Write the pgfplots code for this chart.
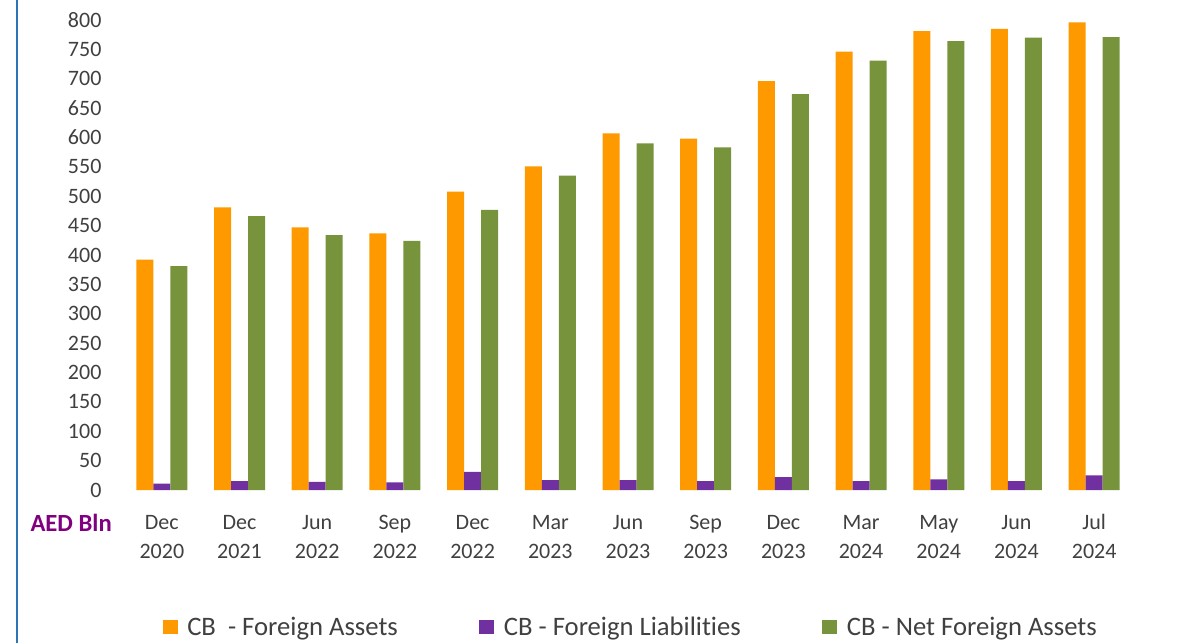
\documentclass[border=0pt]{standalone}
\usepackage{fontspec}
\setmainfont{Carlito}[Ligatures=NoCommon]
\usepackage{pgfplots}
\usepackage{pgfplotstable}
\pgfplotsset{compat=1.18}
\definecolor{cfa}{RGB}{255,153,0}
\definecolor{cfl}{RGB}{112,48,160}
\definecolor{cnfa}{RGB}{119,147,60}
\definecolor{tickgray}{RGB}{64,64,64}
\definecolor{aed}{RGB}{128,0,128}
\definecolor{framec}{RGB}{46,117,182}

\pgfplotstableread{
x fa fl nfa
0 392 11 381
1 481 15 466
2 447 14 434
3 437 13 424
4 508 31 477
5 551 17 535
6 607 17 590
7 598 15 583
8 696 22 674
9 746 15 731
10 781 18 764
11 785 15 770
12 796 25 771
}\datatab

\begin{document}
\begin{tikzpicture}
\useasboundingbox (0,0) rectangle (882.75pt,482.25pt);
\draw[framec, line width=1.5pt] (12.75pt,0) -- (12.75pt,482.25pt);
\begin{axis}[
  at={(92.25pt,114.75pt)}, anchor=south west,
  scale only axis,
  width=757.5pt, height=352.5pt,
  xmin=-0.5, xmax=12.5,
  ymin=0, ymax=800,
  ytick={0,50,...,800},
  xtick={0,...,12},
  xticklabels={{Dec\\2020},{Dec\\2021},{Jun\\2022},{Sep\\2022},{Dec\\2022},{Mar\\2023},{Jun\\2023},{Sep\\2023},{Dec\\2023},{Mar\\2024},{May\\2024},{Jun\\2024},{\raisebox{0pt}[\fontcharht\font`D][0pt]{Jul}\\2024}},
  axis line style={draw=none},
  tick style={draw=none},
  major tick length=0pt,
  /pgf/number format/assume math mode=true,
  tick label style={font=\fontsize{16.5}{21.5}\selectfont, text=tickgray, inner sep=0pt},
  yticklabel style={anchor=east, xshift=-16pt},
  xticklabel style={align=center, anchor=north, yshift=-18.75pt},
  ybar=0pt,
  bar width=12.75pt,
  legend columns=3,
  legend style={draw=none, fill=none, at={(0.503,-0.2915)}, anchor=center,
    font=\fontsize{20}{23}\selectfont, text=tickgray,
    /tikz/every odd column/.append style={column sep=5.25pt},
    /tikz/every even column/.append style={column sep=59pt},
    inner sep=0pt},
  legend image code/.code={\fill[#1,draw=none] (0pt,-5.6pt) rectangle (11.25pt,5.6pt);},
  clip=false,
]
\addplot[fill=cfa, draw=none] table[x=x,y=fa]{\datatab};
\addplot[fill=cfl, draw=none] table[x=x,y=fl]{\datatab};
\addplot[fill=cnfa, draw=none] table[x=x,y=nfa]{\datatab};
\legend{CB\ \ - Foreign Assets, CB - Foreign Liabilities, CB - Net Foreign Assets}
\end{axis}
\node[anchor=east, inner sep=0pt, text=aed, font=\fontsize{18.5}{22}\selectfont\bfseries] at (84pt,90pt) {AED Bln};
\end{tikzpicture}
\end{document}
